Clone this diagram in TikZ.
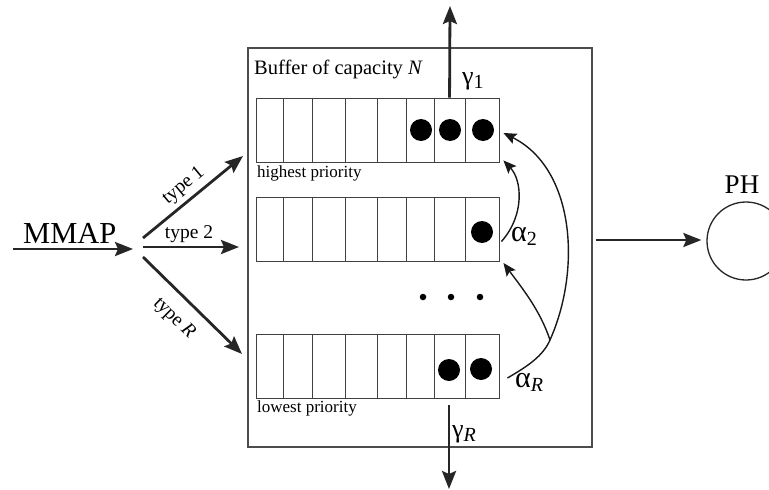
\documentclass[tikz,border=0pt]{standalone}
\usepackage{fontspec}
\setmainfont{Liberation Serif}
\usetikzlibrary{arrows.meta,calc}
\newcommand{\lowidx}[1]{\raisebox{-0.35ex}{\fontsize{20}{20}\selectfont #1}}
\begin{document}
\begin{tikzpicture}[x=1pt,y=-1pt,
  flow/.style={line width=2.8pt, draw=black!85, -{Stealth[length=18pt,width=14pt,inset=3pt]}},
  feed/.style={line width=1.4pt, draw=black!90, -{Stealth[length=13pt,width=11pt,inset=2.5pt]}},
  feedline/.style={line width=1.4pt, draw=black!90},
  queue/.style={draw=black!75, line width=0.9pt, minimum width=243pt, minimum height=64pt, inner sep=0pt},
  job/.style={circle, fill=black, minimum size=22pt, inner sep=0pt},
  gap/.style={circle, fill=black, minimum size=6.5pt, inner sep=0pt},
  lab/.style={inner sep=0pt},
  typelab/.style={inner sep=2.5pt, font=\fontsize{19.5}{20}\selectfont},
  greekg/.style={inner sep=0pt, font=\fontsize{26}{26}\selectfont},
  greeka/.style={inner sep=0pt, font=\fontsize{30}{30}\selectfont},
]
\useasboundingbox (0,0) rectangle (769,490);
\clip (0,0) rectangle (769,490);

% buffer frame and its caption
\node[draw=black!70, line width=1.1pt, minimum width=344pt, minimum height=399pt, inner sep=0pt] (buf) at (420,247.5) {};
\node[lab, anchor=base west, font=\fontsize{20.5}{21}\selectfont] (cap) at (254,74) {Buffer of capacity \textit{N}};

% priority queues
\node[queue] (q1) at (377.5,130) {};
\node[queue] (q2) at (377.5,229.5) {};
\node[queue] (qR) at (377.5,366) {};
\foreach \q in {q1,q2,qR}
  \foreach \d in {28,57,90,122,151,179,210}
    \draw[draw=black!75, line width=0.9pt] ($(\q.north west)+(\d,0)$) -- ($(\q.south west)+(\d,0)$);
\node[lab, anchor=base west, font=\fontsize{17}{17}\selectfont] (hi) at (257,177) {highest priority};
\node[lab, anchor=base west, font=\fontsize{17}{17}\selectfont] (lo) at (257,412) {lowest priority};

% waiting customers
\node[job] (c11) at (421,130) {};
\node[job] (c12) at (450,130) {};
\node[job] (c13) at (483,130) {};
\node[job] (c21) at (482,232) {};
\node[job] (cR1) at (449,370) {};
\node[job] (cR2) at (481,369) {};
\node[gap] (d1) at (423,297) {};
\node[gap] (d2) at (451,297) {};
\node[gap] (d3) at (480,297) {};

% arrival stream
\coordinate (src) at (13,249);
\coordinate (fork) at (133,249);
\node[lab, anchor=base west, font=\fontsize{30.5}{31}\selectfont] (mmap) at (23,243) {MMAP};
\draw[flow] (src) -- (fork);
\coordinate (t1s) at (143,238);
\coordinate (t2s) at (143,247);
\coordinate (tRs) at (143,257);
\coordinate (t1e) at (243,156);
\coordinate (t2e) at (239,247);
\coordinate (tRe) at (242,354);
\draw[flow] (t1s) -- node[typelab, sloped, above=2pt] {type 1} (t1e);
\draw[flow] (t2s) -- node[typelab, above, pos=0.48] {type 2} (t2e);
\draw[flow] (tRs) -- node[typelab, sloped, below=10pt, pos=0.47] {type \textit{R}} (tRe);

% departures (abandonment)
\coordinate (g1s) at ($(q1.north west)+(194,0)$);
\coordinate (g1e) at (450,6);
\draw[flow] (g1s) -- (g1e);
\node[greekg, anchor=base west] (g1) at (462,84) {γ\lowidx{1}};
\coordinate (gRs) at (449,405);
\coordinate (gRe) at (449,489);
\draw[flow] (gRs) -- (gRe);
\node[greekg, anchor=base west] (gR) at (452,437) {γ\lowidx{\textit{R}}};

% priority changes
\coordinate (a2s) at ($(q2.east)+(2,12)$);
\draw[feed] (a2s) .. controls (525,215) and (522,180) .. ($(q1.south east)+(4,-2)$);
\node[greeka, anchor=base west] (a2) at (511,241) {α\lowidx{2}};
\coordinate (aRs) at ($(qR.east)+(8,12)$);
\coordinate (br) at (550,340);
\draw[feedline] (aRs) .. controls (528,366) and (543,356) .. (br);
\draw[feed] (br) .. controls (582,268) and (574,168) .. ($(q1.east)+(4,3)$);
\draw[feed] (br) .. controls (540,310) and (522,288) .. ($(q2.south east)+(4,1)$);
\node[greeka, anchor=base west] (aR) at (515,387) {α\lowidx{\textit{R}}};

% service station
\node[circle, draw=black!85, line width=1.3pt, minimum size=78pt, inner sep=0pt] (ph) at (746,241) {};
\node[lab, anchor=base, font=\fontsize{27}{27}\selectfont] (phl) at (742,193) {PH};
\draw[flow] ($(buf.east)+(3,-7.5)$) -- ($(ph.west)+(-5,-1)$);
\end{tikzpicture}
\end{document}
